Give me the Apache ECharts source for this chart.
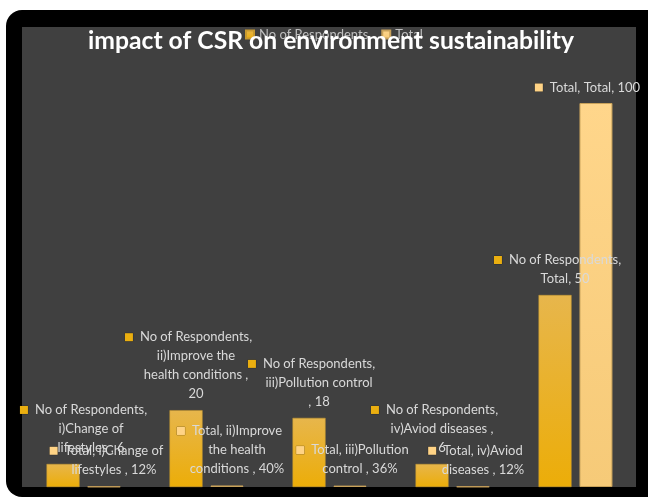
<!DOCTYPE html>
<html>
<head>
<meta charset="utf-8">
<script src="https://cdn.jsdelivr.net/npm/echarts@6/dist/echarts.min.js"></script>
<style>
  html, body { margin: 0; padding: 0; background: #fff; }
  #chart { width: 648px; height: 500px; }
</style>
</head>
<body>
<div id="chart"></div>
<script>
// data
const categories = ['i)Change of lifestyles', 'ii)Improve the health conditions', 'iii)Pollution control', 'iv)Aviod diseases', 'Total']
const respondents = [6, 20, 18, 6, 50]
const totals = [0.12, 0.40, 0.36, 0.12, 100]

// how the excel labels wrap, {v} is the value
const respLines = [
  ['No of Respondents,', 'i)Change of', 'lifestyles , {v}'],
  ['No of Respondents,', 'ii)Improve the', 'health conditions ,', '{v}'],
  ['No of Respondents,', 'iii)Pollution control', ', {v}'],
  ['No of Respondents,', 'iv)Aviod diseases ,', '{v}'],
  ['No of Respondents,', 'Total, {v}']
]
const totalLines = [
  ['Total, i)Change of', 'lifestyles , {v}'],
  ['Total, ii)Improve', 'the health', 'conditions , {v}'],
  ['Total, iii)Pollution', 'control , {v}'],
  ['Total, iv)Aviod', 'diseases , {v}'],
  ['Total, Total, {v}']
]

const goldColor = '#EBAF10'
const lightColor = '#FFD385'
const fontName = 'Lato, "Open Sans", sans-serif'

function fmtValue (v) {
  return v < 1 ? Math.round(v * 100) + '%' : String(v)
}

function makeLabel (lines, v) {
  return lines.map(function (l, i) {
    const txt = '{t|' + l.replace('{v}', fmtValue(v)) + '}'
    return i === 0 ? '{sq|}{g|}' + txt + '{sp|}' : txt
  }).join('\n')
}

function labelRich (color) {
  return {
    sq: { width: 8, height: 8, backgroundColor: color, borderColor: 'rgba(0,0,0,0.3)', borderWidth: 0.5 },
    g: { width: 7 },
    sp: { width: 15 },
    t: { color: '#D9D9D9', fontSize: 13, fontFamily: fontName, lineHeight: 19 }
  }
}

let chart = echarts.init(document.getElementById('chart'))

let option = {
  backgroundColor: '#ffffff',
  animation: false,
  graphic: [
    {
      type: 'rect',
      silent: true,
      z: -10,
      shape: { x: 6, y: 10, width: 700, height: 487, r: 16 },
      style: { fill: '#000000' }
    },
    {
      type: 'rect',
      silent: true,
      z: -9,
      shape: { x: 22, y: 27, width: 614, height: 460 },
      style: { fill: '#404040' }
    }
  ],
  title: {
    text: 'impact of CSR on environment sustainability',
    left: 83,
    top: 24,
    textStyle: {
      color: '#ffffff',
      fontSize: 24.7,
      fontWeight: 'bold',
      fontFamily: fontName
    }
  },
  legend: {
    data: ['No of Respondents', 'Total'],
    left: 240,
    top: 23,
    icon: 'rect',
    itemWidth: 8,
    itemHeight: 8,
    itemGap: 13,
    textStyle: {
      color: '#BFBFBF',
      fontSize: 13,
      fontFamily: fontName
    }
  },
  grid: {
    left: 22,
    right: 11,
    top: 103,
    bottom: 13
  },
  xAxis: {
    type: 'category',
    data: categories,
    show: false
  },
  yAxis: {
    type: 'value',
    min: 0,
    max: 100,
    show: false
  },
  series: [
    {
      name: 'No of Respondents',
      type: 'bar',
      barWidth: 33,
      barGap: '24%',
      itemStyle: {
        color: new echarts.graphic.LinearGradient(0, 0, 0, 1, [
          { offset: 0, color: '#E7B64C' },
          { offset: 1, color: '#ECAD08' }
        ]),
        borderColor: '#C99A2E',
        borderWidth: 0.5
      },
      label: {
        show: true,
        position: 'top',
        distance: 0,
        offset: [10, -6.5],
        formatter: function (p) { return makeLabel(respLines[p.dataIndex], p.value) },
        rich: labelRich(goldColor)
      },
      data: respondents.map(function (v, i) {
        return i === 0 ? { value: v, label: { offset: [28, -6.5] } } : v
      })
    },
    {
      name: 'Total',
      type: 'bar',
      barWidth: 33,
      itemStyle: {
        color: new echarts.graphic.LinearGradient(0, 0, 0, 1, [
          { offset: 0, color: '#FFD68B' },
          { offset: 1, color: '#F6CA78' }
        ]),
        borderColor: '#C9A25A',
        borderWidth: 1
      },
      label: {
        show: true,
        position: 'top',
        distance: 0,
        offset: [10, -7],
        formatter: function (p) { return makeLabel(totalLines[p.dataIndex], p.value) },
        rich: labelRich(lightColor)
      },
      data: totals.map(function (v, i) {
        return i === 4 ? { value: v, label: { offset: [-1, -6] } } : v
      })
    }
  ]
}

chart.setOption(option)
</script>
</body>
</html>
